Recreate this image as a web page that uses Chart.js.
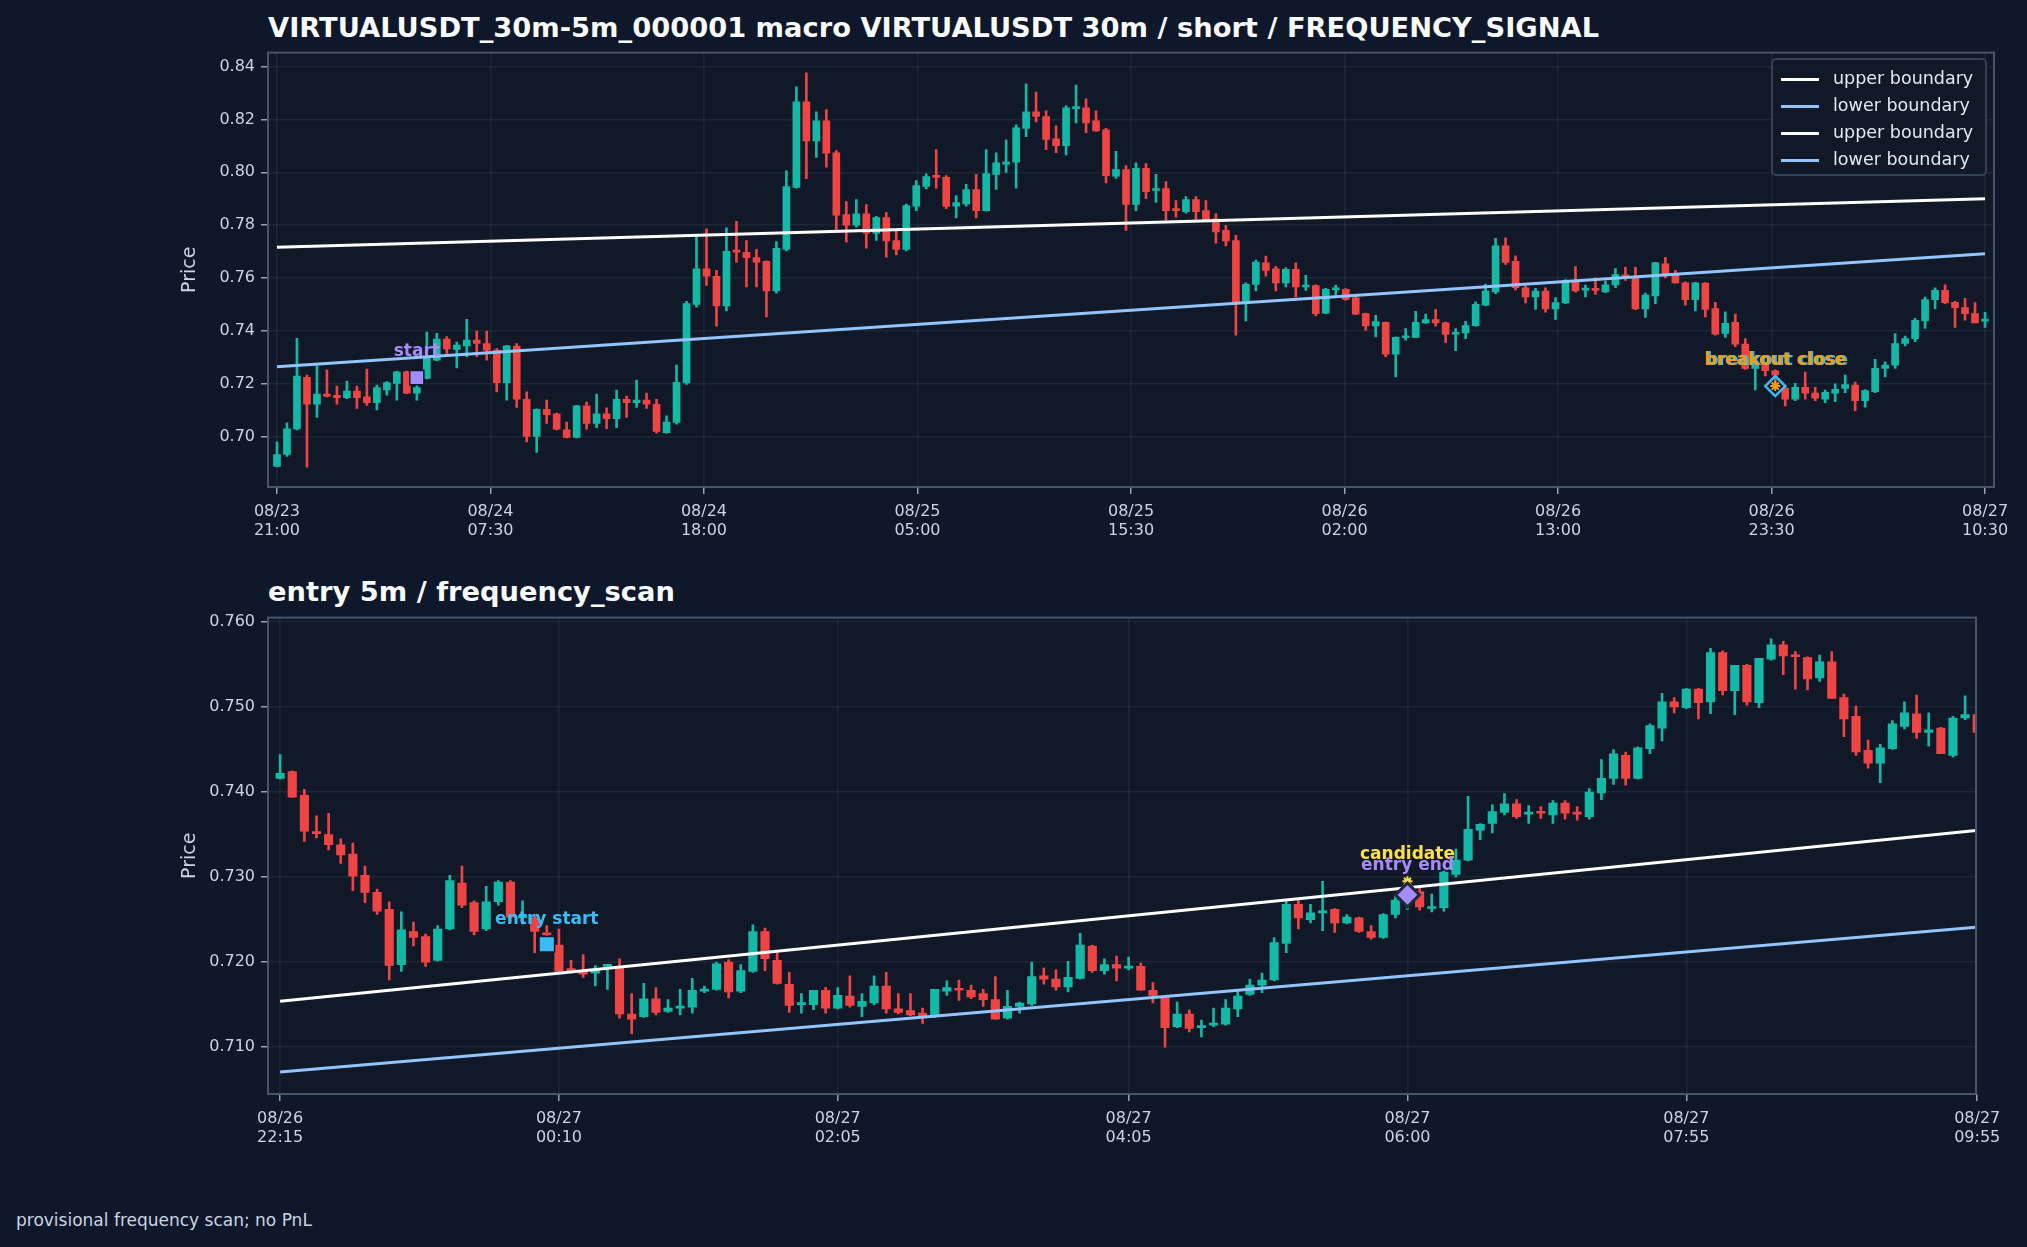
<!DOCTYPE html>
<html><head><meta charset="utf-8">
<script src="https://cdn.jsdelivr.net/npm/chart.js@4.4.1/dist/chart.umd.min.js"></script>
<style>
body{margin:0;background:#0f172a;width:2027px;height:1247px;overflow:hidden;font-family:"DejaVu Sans",sans-serif;}
.box{position:absolute;}
.title{position:absolute;color:#f8fafc;font-weight:bold;font-size:27.3px;white-space:nowrap;}
#legend{position:absolute;left:1771px;top:58px;width:212px;height:114px;border:2px solid #334155;border-radius:5px;background:#111827;}
.li{position:absolute;left:0;color:#e2e8f0;font-size:17.5px;}
.li span{display:inline-block;width:38px;height:3px;vertical-align:middle;margin:0 14px 0 8px;}
</style></head><body>
<div class="title" style="left:268px;top:12px">VIRTUALUSDT_30m-5m_000001 macro VIRTUALUSDT 30m / short / FREQUENCY_SIGNAL</div>
<div class="title" style="left:268px;top:576px">entry 5m / frequency_scan</div>
<div class="box" style="left:0;top:37px;width:2027px;height:520px"><canvas id="c1"></canvas></div>
<div class="box" style="left:0;top:602px;width:2027px;height:562px"><canvas id="c2"></canvas></div>
<div id="legend">
<div class="li" style="top:8px"><span style="background:#ffffff"></span>upper boundary</div>
<div class="li" style="top:35px"><span style="background:#93c5fd"></span>lower boundary</div>
<div class="li" style="top:62px"><span style="background:#ffffff"></span>upper boundary</div>
<div class="li" style="top:89px"><span style="background:#93c5fd"></span>lower boundary</div>
</div>
<div style="position:absolute;left:16px;top:1210px;color:#cbd5e1;font-size:17px">provisional frequency scan; no PnL</div>
<script>
// ---------- macro 30m ----------
const macroTickLabels=[['08/23','21:00'],['08/24','07:30'],['08/24','18:00'],['08/25','05:00'],['08/25','15:30'],['08/26','02:00'],['08/26','13:00'],['08/26','23:30'],['08/27','10:30']];
const macroOpen=[.6887,.6932,.7029,.7224,.7122,.7161,.7156,.7147,.7172,.715,
.7128,.7176,.7201,.7245,.7164,.722,.7289,.7369,.733,.7343,
.7365,.7352,.7327,.7204,.7342,.7141,.70,.7103,.7086,.7025,
.6997,.7116,.705,.7086,.7068,.7141,.7128,.7138,.7122,.7015,
.7053,.7203,.75,.7635,.7606,.7494,.7701,.7697,.7677,.7663,
.7551,.7708,.7943,.8267,.8119,.8195,.8074,.784,.78,.7843,
.777,.7829,.7742,.7708,.7872,.7947,.7987,.7981,.7872,.788,
.7935,.7855,.7992,.8031,.8038,.8166,.8229,.8211,.8127,.8101,
.8241,.8244,.8195,.8161,.7985,.801,.7878,.8015,.7931,.7938,
.7858,.7851,.7897,.7855,.7824,.778,.7742,.7509,.7576,.7657,
.7635,.7581,.7633,.7566,.7571,.7467,.7555,.7557,.7525,.7465,
.7419,.7432,.7312,.7374,.7375,.743,.7443,.743,.7387,.7392,
.742,.7497,.7547,.7722,.7663,.7563,.7528,.755,.7483,.7506,
.7591,.7554,.7557,.7547,.7574,.761,.7604,.7483,.7532,.7654,
.7614,.7582,.7518,.7581,.7484,.739,.7432,.735,.7258,.7277,
.7249,.7182,.7141,.7186,.7164,.7141,.7164,.7182,.7195,.7136,
.717,.7258,.727,.7352,.737,.7438,.7518,.7553,.7508,.7488,
.7465,.7437];
const macroHigh=[.698,.7052,.7372,.7233,.7268,.7252,.7191,.721,.7191,.7255,
.7195,.7208,.7248,.7248,.7201,.7395,.7391,.7378,.7357,.7444,
.7399,.7399,.7333,.7345,.7352,.7169,.7105,.7138,.7089,.7055,
.7118,.713,.7161,.7109,.7176,.7153,.7214,.7164,.7141,.7078,
.727,.7512,.7757,.7786,.7629,.779,.7814,.7742,.7708,.7665,
.7738,.8006,.8323,.8376,.8229,.8237,.8082,.7889,.7897,.7878,
.7833,.7848,.778,.788,.7969,.7994,.8086,.7988,.7912,.7954,
.7992,.8086,.8074,.8123,.818,.8335,.8304,.8233,.8176,.8252,
.833,.8278,.8233,.8166,.8079,.8025,.8036,.8033,.7992,.7965,
.7893,.7908,.7908,.7893,.7844,.7799,.7761,.7582,.7668,.7683,
.7644,.7638,.7657,.761,.7574,.7561,.7573,.756,.7529,.7467,
.7459,.7433,.7377,.7409,.7474,.7463,.7481,.7433,.7409,.7436,
.751,.7577,.775,.7752,.7684,.757,.7561,.7563,.7526,.7594,
.7643,.7573,.7601,.7588,.7636,.764,.764,.7543,.7659,.7678,
.7629,.7585,.7584,.7583,.7508,.7472,.7463,.7371,.7285,.728,
.7252,.7188,.7201,.7244,.7186,.7176,.7199,.7233,.7206,.7178,
.7292,.7283,.739,.738,.7447,.7528,.7563,.7574,.7512,.7523,
.7507,.747];
const macroLow=[.6885,.6925,.7025,.6884,.7072,.715,.7122,.7143,.7106,.7118,
.7101,.7157,.7138,.7162,.7138,.7218,.7286,.7312,.726,.7302,
.7302,.7289,.7169,.7138,.711,.698,.694,.705,.7025,.6995,
.6995,.7028,.7034,.703,.7034,.7072,.711,.7106,.7013,.7013,
.7047,.7197,.749,.7572,.7418,.7475,.766,.7566,.7566,.7453,
.7543,.7702,.794,.7976,.8056,.8019,.778,.7736,.7792,.7713,
.7742,.7679,.7687,.7702,.7855,.7937,.794,.7862,.7827,.7872,
.7827,.7853,.7935,.80,.794,.8135,.8191,.8086,.8074,.8066,
.8187,.815,.8155,.796,.7977,.778,.7855,.79,.7886,.7818,
.783,.7845,.782,.7818,.7732,.7721,.7384,.7438,.7551,.7607,
.7551,.7566,.7528,.7553,.7456,.7465,.7535,.7515,.7461,.7402,
.7377,.7302,.7226,.7365,.7374,.7428,.7418,.7355,.7325,.737,
.7418,.7495,.7541,.7651,.7555,.7506,.7481,.7471,.7443,.7503,
.7546,.7528,.7538,.7545,.7563,.7591,.748,.7451,.7503,.76,
.758,.7497,.7475,.7453,.7384,.7375,.734,.7254,.7176,.7229,
.72,.7116,.7136,.7141,.7136,.7128,.7132,.7166,.7098,.7111,
.7166,.7226,.7258,.7343,.7359,.7409,.7484,.7503,.7413,.744,
.743,.7413];
const macroClose=[.6932,.7029,.7229,.7122,.7161,.7153,.7147,.7172,.7147,.7128,
.7185,.7204,.7245,.7164,.7185,.73,.7369,.7332,.7346,.7365,
.7352,.7327,.7204,.7343,.7141,.70,.7103,.7083,.7028,.6997,
.7116,.705,.7086,.7068,.7141,.7128,.7138,.7122,.7019,.7055,
.7205,.7503,.7635,.7607,.7494,.7701,.7698,.7677,.766,.7551,
.7712,.7946,.8267,.8119,.8195,.8072,.7838,.78,.7843,.777,
.7829,.774,.7708,.7874,.795,.7984,.7981,.7871,.7885,.7935,
.7855,.7995,.8036,.8039,.8168,.8229,.8211,.8124,.8101,.8244,
.8244,.8187,.8157,.7987,.801,.7878,.8015,.7927,.7936,.7855,
.7855,.7897,.7851,.7821,.7774,.774,.7509,.7576,.766,.7629,
.7581,.7633,.7566,.7571,.7465,.7557,.7557,.7519,.7463,.7419,
.7435,.7312,.7375,.7377,.7432,.7443,.743,.7386,.739,.742,
.75,.755,.7722,.7659,.7563,.7528,.755,.7483,.7507,.7591,
.7551,.7557,.7553,.7574,.7613,.7604,.7483,.7535,.7658,.7614,
.7581,.7518,.7582,.7481,.7387,.7428,.735,.7258,.7277,.7249,
.7233,.7141,.7186,.7164,.7145,.7167,.7179,.7197,.7136,.7174,
.7258,.727,.7352,.7371,.744,.7518,.7553,.7507,.7488,.7465,
.743,.744];
const macroUpper=[0.7716,0.7900];
const macroLower=[0.7264,0.7692];
const macroStart={i:14,price:0.7223,labelPrice:0.7321};
const macroBreakout={i:150,price:0.7191,labelPrice:0.7289};

// ---------- entry 5m ----------
const entryTickIdx=[0,23,46,70,93,116,140];
const entryTickLabels=[['08/26','22:15'],['08/27','00:10'],['08/27','02:05'],['08/27','04:05'],['08/27','06:00'],['08/27','07:55'],['08/27','09:55']];
const entryOpen=[.7416,.7424,.7396,.7353,.735,.7338,.7327,.7302,.7282,.7262,
.7197,.7236,.723,.7202,.7239,.7293,.727,.7239,.7271,.7294,
.7252,.7252,.7234,.722,.7192,.7189,.7187,.7195,.7195,.7139,
.7136,.7157,.7142,.7146,.7147,.7166,.7168,.72,.7166,.7189,
.7236,.7202,.7174,.715,.715,.7167,.7146,.716,.7148,.7152,
.7172,.7145,.7143,.714,.7136,.7166,.7169,.7167,.7163,.7156,
.7134,.7148,.7151,.7184,.718,.7171,.7181,.7219,.719,.7197,
.7193,.7195,.7167,.7158,.7124,.7139,.7123,.7126,.7127,.7145,
.7162,.7173,.7179,.7222,.7268,.725,.7258,.7262,.7246,.7252,
.7236,.7229,.7256,.7273,.7283,.7263,.7264,.7303,.732,.7355,
.7363,.7376,.7386,.7374,.7376,.7373,.7387,.7375,.7371,.7399,
.7416,.7443,.7416,.7451,.7475,.7506,.7499,.7521,.7506,.7564,
.7519,.7549,.7505,.7556,.7573,.756,.7558,.7534,.7553,.7511,
.7489,.7449,.7434,.7451,.7477,.7492,.747,.7475,.7443,.7487,
.7491];
const entryHigh=[.7444,.7425,.7403,.7372,.7375,.7345,.734,.7313,.7286,.7271,
.7259,.7247,.7233,.7243,.7302,.7313,.7272,.7289,.7296,.7296,
.7272,.7254,.7243,.7239,.7202,.7209,.7196,.7197,.7204,.7163,
.7175,.717,.7156,.7168,.7181,.7172,.72,.7203,.7197,.7244,
.724,.7211,.7188,.7163,.7167,.717,.717,.7184,.7163,.7184,
.7188,.7163,.7163,.7146,.7168,.7178,.7179,.7173,.7168,.7183,
.7167,.7153,.72,.7193,.7191,.7201,.7234,.722,.7204,.7207,
.7206,.7199,.7176,.7159,.7153,.7144,.7132,.7146,.7156,.7166,
.718,.7187,.7229,.7272,.7273,.7268,.7295,.7263,.7256,.7253,
.7243,.7257,.7279,.7285,.7288,.728,.7307,.7333,.7395,.7363,
.7385,.7398,.7391,.7384,.7383,.739,.739,.7383,.7404,.7438,
.745,.7447,.7453,.748,.7516,.7511,.7522,.7522,.7569,.7566,
.7549,.755,.7557,.758,.7577,.7565,.7559,.7561,.7565,.7515,
.7501,.7461,.7456,.7484,.7506,.7514,.7493,.7476,.7489,.7513,
.7493];
const entryLow=[.7415,.7394,.7342,.7346,.7332,.7316,.7284,.727,.7256,.7179,
.7189,.7219,.7195,.7201,.7238,.7264,.7232,.7237,.7267,.7247,
.7245,.7211,.7231,.7188,.7189,.7182,.7172,.7168,.7134,.7116,
.7135,.7138,.7141,.7138,.714,.7164,.7167,.7158,.7164,.7188,
.719,.7174,.7141,.714,.7144,.714,.7145,.7147,.7136,.715,
.714,.7139,.7137,.7128,.7135,.7161,.7155,.7157,.7148,.7133,
.7133,.714,.7149,.7174,.7167,.7165,.718,.7188,.7186,.7178,
.7191,.7167,.7152,.71,.7123,.7118,.7112,.7124,.7126,.7136,
.7161,.7164,.7178,.7211,.7239,.7246,.7237,.7235,.7245,.7235,
.7227,.7228,.7252,.7262,.7261,.7259,.726,.73,.7319,.7344,
.7352,.7373,.7369,.7363,.7369,.7363,.7368,.7367,.7368,.7391,
.7409,.7408,.7415,.7445,.746,.7493,.7498,.7486,.7492,.7514,
.7491,.7502,.7499,.7555,.7538,.7521,.752,.753,.751,.7465,
.7443,.7428,.7411,.745,.7474,.7463,.7454,.7445,.7441,.7485,
.747];
const entryClose=[.7422,.7394,.7354,.7351,.7338,.7326,.7301,.7282,.726,.7196,
.7238,.7229,.72,.7239,.7296,.7267,.7236,.7271,.7294,.7253,
.7253,.7236,.7232,.7189,.719,.7186,.719,.7196,.7139,.7133,
.7157,.7141,.7146,.7147,.7167,.7168,.7198,.7165,.719,.7236,
.7204,.7175,.7149,.7151,.7167,.7146,.7161,.7149,.7154,.7172,
.7145,.7141,.7138,.7136,.7168,.717,.7167,.7159,.7156,.7133,
.7148,.7152,.7183,.718,.7171,.7182,.722,.719,.7197,.7193,
.7194,.7167,.7161,.7123,.7139,.7122,.7125,.7127,.7146,.716,
.7173,.7179,.7223,.7268,.7252,.7258,.726,.7246,.7253,.7236,
.7229,.7256,.7273,.7279,.7265,.7264,.7306,.732,.7356,.7362,
.7377,.7386,.7371,.7375,.7375,.7387,.7375,.7374,.74,.7416,
.7445,.7416,.7452,.7478,.7506,.75,.7521,.7505,.7564,.7519,
.7549,.7506,.7557,.7573,.756,.7559,.7533,.7553,.751,.7486,
.7447,.7434,.7452,.748,.7493,.747,.7473,.7445,.7487,.7491,
.747];
const entryUpper=[0.7154,0.7355];
const entryLower=[0.7071,0.7241];
const entryStart={i:22,price:0.7221,labelPrice:0.7250};
const entryEnd={i:93,price:0.7279,starPrice:0.7295,candPrice:0.7326,endPrice:0.7313};

const GREEN='#14b8a6',RED='#ef4444',TXT='#cbd5e1',GRID='rgba(148,163,184,0.10)';
const FONT='"DejaVu Sans", sans-serif';

const bgPlugin={id:'bg',beforeDraw(c){const a=c.chartArea,x=c.ctx;x.save();x.fillStyle='#111827';x.fillRect(a.left,a.top,a.right-a.left,a.bottom-a.top);x.restore();},
 afterDraw(c){const a=c.chartArea,x=c.ctx;x.save();x.strokeStyle='#475569';x.lineWidth=2;x.strokeRect(a.left,a.top,a.right-a.left,a.bottom-a.top);
 const xs=c.scales.x,ys=c.scales.y;
 x.save();x.translate(a.left-78,(a.top+a.bottom)/2);x.rotate(-Math.PI/2);x.font='19px '+FONT;x.fillStyle=TXT;x.textAlign='center';x.textBaseline='middle';x.fillText('Price',0,0);x.restore();
 const lbls=c.options.plugins.texts||[];
 lbls.forEach(t=>{x.font='bold '+(t.size||17)+'px '+FONT;x.fillStyle=t.color;x.textAlign='center';x.textBaseline='middle';x.fillText(t.text,xs.getPixelForValue(t.i)+(t.dx||0),ys.getPixelForValue(t.p));});
 x.restore();}};

function candleSets(O,H,L,C,bodyW){
  const col=i=>C[i]>=O[i]?GREEN:RED;
  return [
   {type:'bar',data:O.map((o,i)=>({x:i,y:[L[i],H[i]]})),backgroundColor:ctx=>col(ctx.dataIndex),barThickness:2,grouped:false,order:3},
   {type:'bar',data:O.map((o,i)=>({x:i,y:[o,C[i]]})),backgroundColor:ctx=>col(ctx.dataIndex),barThickness:bodyW,minBarLength:2,grouped:false,order:2}
  ];
}
function lineSet(xs,ys,color){return {type:'line',data:xs.map((x,k)=>({x:x,y:ys[k]})),borderColor:color,borderWidth:3,pointRadius:0,order:1};}

function makeChart(id,O,H,L,C,cfg){
  const n=O.length;
  const ds=candleSets(O,H,L,C,cfg.bodyW).concat([lineSet([0,n-1],cfg.upper,'#ffffff'),lineSet([0,n-1],cfg.lower,'#93c5fd')]).concat(cfg.points);
  return new Chart(document.getElementById(id),{
    data:{datasets:ds},
    options:{responsive:true,maintainAspectRatio:false,animation:false,
      layout:{padding:{top:10,right:cfg.padR,left:0,bottom:0}},
      plugins:{legend:{display:false},tooltip:{enabled:false},texts:cfg.texts},
      scales:{
        x:{type:'linear',min:cfg.xmin,max:cfg.xmax,offset:false,
          afterFit(s){s.height=70;},
          afterBuildTicks(s){s.ticks=cfg.tickPos.map(v=>({value:v}));},
          ticks:{color:TXT,font:{size:16,family:FONT},maxRotation:0,autoSkip:false,padding:8,
            callback:(v,i)=>cfg.tickLabels[i]},
          grid:{offset:false,color:GRID,lineWidth:1.5,tickColor:'#94a3b8',tickLength:7},border:{display:false}},
        y:{min:cfg.ymin,max:cfg.ymax,
          afterFit(s){s.width=268;},
          ticks:{color:TXT,font:{size:16,family:FONT},stepSize:cfg.step,includeBounds:false,padding:6,
            callback:v=>Number(v).toFixed(cfg.dec)},
          grid:{color:GRID,lineWidth:1.5,tickColor:'#94a3b8',tickLength:7},border:{display:false}}
      }},
    plugins:[bgPlugin]
  });
}

makeChart('c1',macroOpen,macroHigh,macroLow,macroClose,{
  bodyW:7,padR:33,xmin:-0.9,xmax:macroOpen.length-1+0.9,ymin:0.6809,ymax:0.8453,step:0.02,dec:2,
  tickPos:macroTickLabels.map((l,k)=>k*(macroOpen.length-1)/(macroTickLabels.length-1)),tickLabels:macroTickLabels,
  upper:macroUpper,lower:macroLower,
  points:[
    {type:'scatter',data:[{x:macroStart.i,y:macroStart.price}],pointStyle:'rect',pointRadius:10,backgroundColor:'#a78bfa',borderColor:'#0f172a',borderWidth:1.5,order:0},
    {type:'scatter',data:[{x:macroBreakout.i,y:macroBreakout.price}],pointStyle:'rectRot',pointRadius:10,backgroundColor:'rgba(0,0,0,0)',borderColor:'#38bdf8',borderWidth:2.5,order:0},
    {type:'scatter',data:[{x:macroBreakout.i,y:macroBreakout.price}],pointStyle:'star',pointRadius:5,backgroundColor:'#f59e0b',borderColor:'#f59e0b',borderWidth:2,order:0}
  ],
  texts:[{i:macroStart.i,p:macroStart.labelPrice,text:'start',color:'#a78bfa',dx:0},
         {i:macroBreakout.i,p:macroBreakout.labelPrice,text:'breakout close',color:'#38bdf8',dx:2},
         {i:macroBreakout.i,p:macroBreakout.labelPrice,text:'breakout close',color:'#f59e0b',dx:0}]
});

makeChart('c2',entryOpen,entryHigh,entryLow,entryClose,{
  bodyW:8.5,padR:51,xmin:-1,xmax:entryOpen.length-1-0.1,ymin:0.7045,ymax:0.7605,step:0.01,dec:3,
  tickPos:entryTickIdx,tickLabels:entryTickLabels,
  upper:entryUpper,lower:entryLower,
  points:[
    {type:'scatter',data:[{x:entryStart.i,y:entryStart.price}],pointStyle:'rect',pointRadius:11,backgroundColor:'#38bdf8',borderColor:'#0f172a',borderWidth:1.5,order:0},
    {type:'scatter',data:[{x:entryEnd.i,y:entryEnd.price}],pointStyle:'rectRot',pointRadius:12,backgroundColor:'#a78bfa',borderColor:'#1e293b',borderWidth:3,order:0},
    {type:'scatter',data:[{x:entryEnd.i,y:entryEnd.starPrice}],pointStyle:'star',pointRadius:5,backgroundColor:'#fde047',borderColor:'#fde047',borderWidth:2,order:0}
  ],
  texts:[{i:entryStart.i,p:entryStart.labelPrice,text:'entry start',color:'#38bdf8'},
         {i:entryEnd.i,p:entryEnd.candPrice,text:'candidate',color:'#fde047'},
         {i:entryEnd.i,p:entryEnd.endPrice,text:'entry end',color:'#a78bfa'}]
});
</script>
</body></html>
